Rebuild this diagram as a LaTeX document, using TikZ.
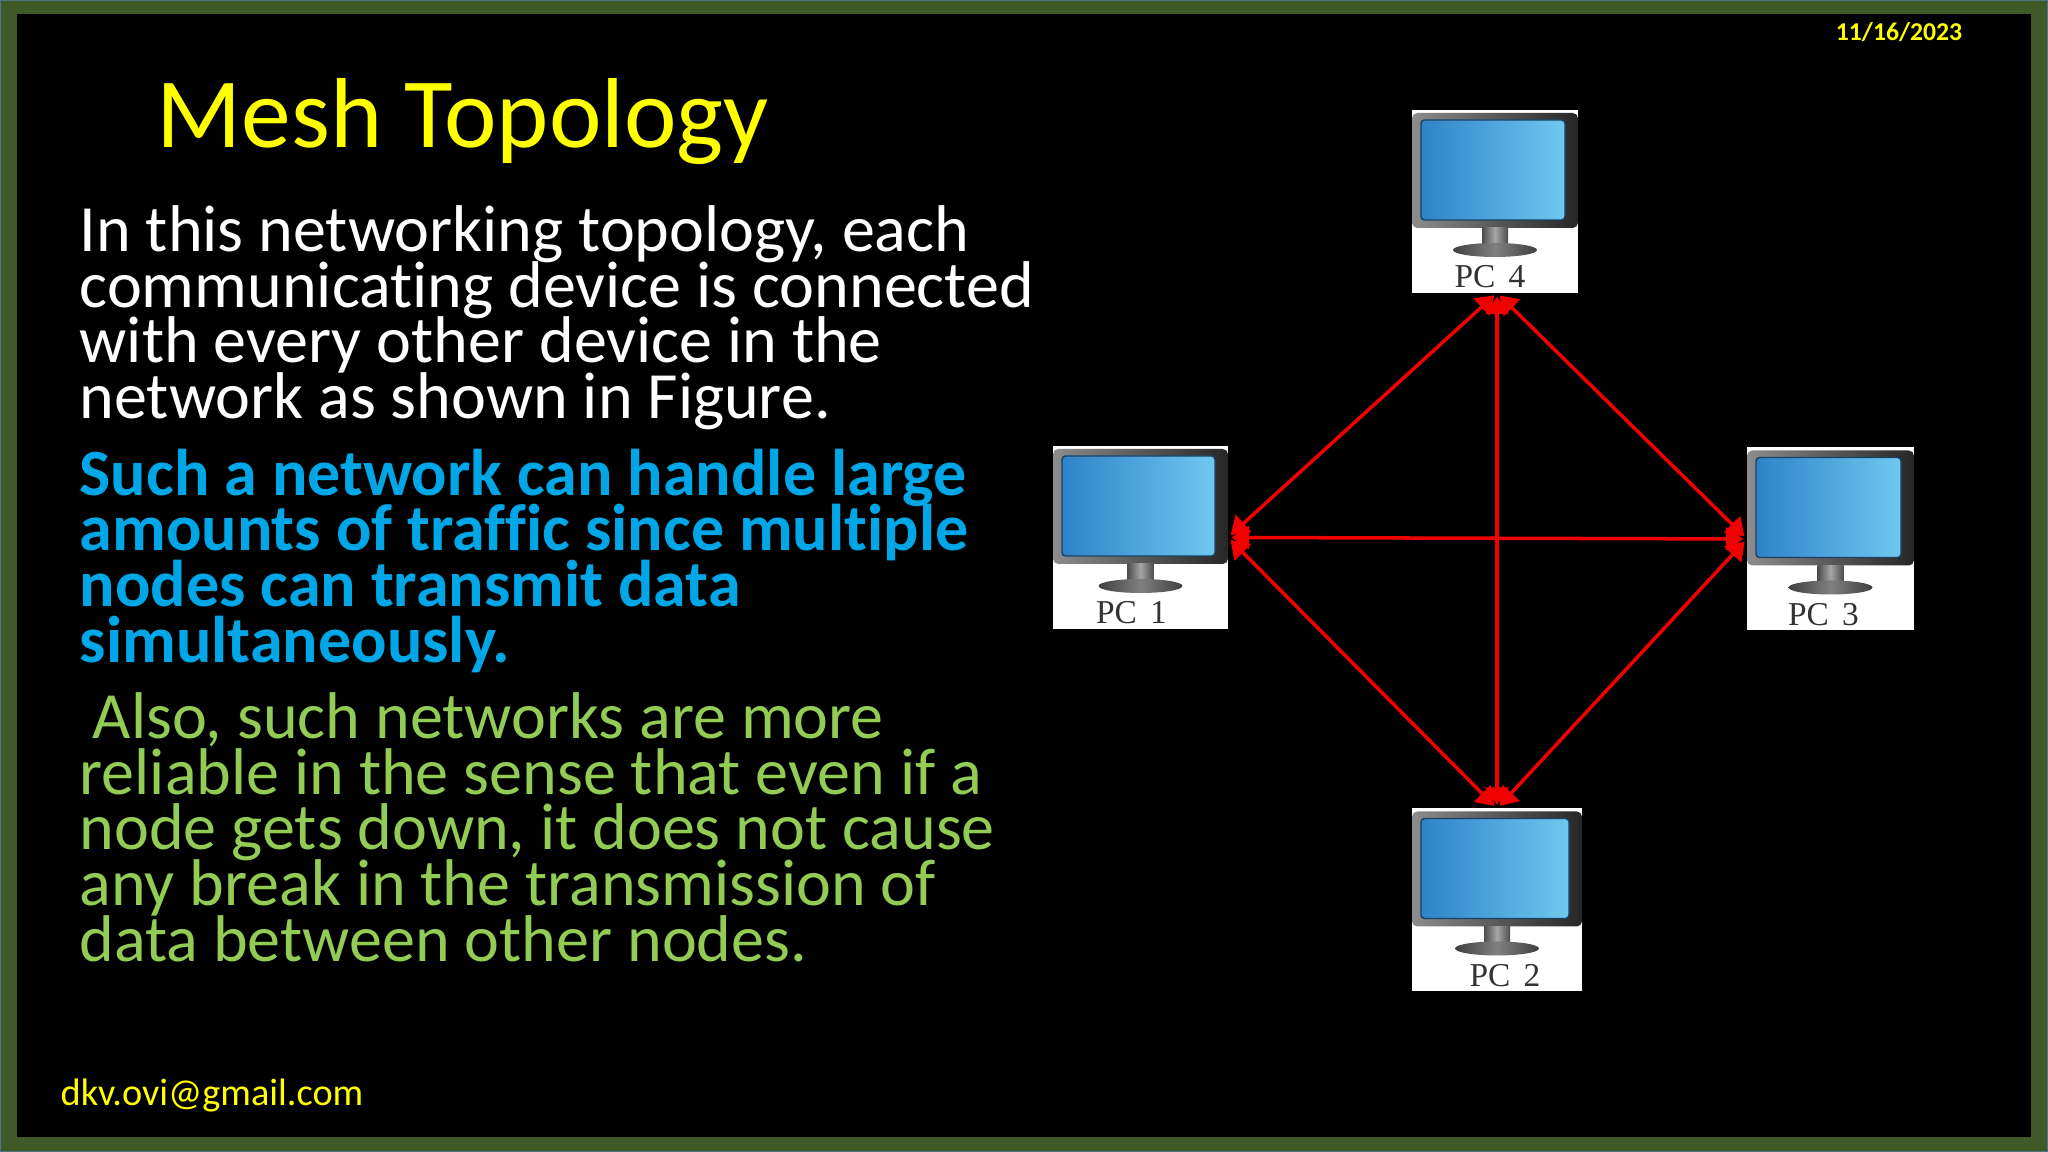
\documentclass[tikz,border=0pt]{standalone}
\usepackage{fontspec}
\setmainfont[Ligatures=NoCommon]{Carlito}
\newfontfamily\labelfont{Liberation Serif}
\usetikzlibrary{arrows.meta,positioning}
\definecolor{framegreen}{HTML}{3F5A27}
\definecolor{frameedge}{HTML}{4A7488}
\definecolor{titleyellow}{HTML}{FFFF00}
\definecolor{bodyblue}{HTML}{00A6E6}
\definecolor{bodygreen}{HTML}{92CC55}
\definecolor{screenleft}{HTML}{2E83C8}
\definecolor{screenright}{HTML}{70C8F0}
\definecolor{linkred}{HTML}{F00000}
\setlength{\lineskiplimit}{-20pt}
\newcommand{\bodyfont}{\fontsize{18.8}{15.85}\selectfont}
\tikzset{
  bodytext/.style={anchor=north west,align=left,font=\bodyfont,inner sep=0pt},
  pcbox/.style={draw=none,fill=white,inner sep=0pt,outer sep=0pt,minimum width=#1,minimum height=1.83cm},
  link/.style={linkred,line width=1pt,shorten <=1pt,shorten >=1pt,{Triangle[length=5pt,width=6.5pt]}-{Triangle[length=5pt,width=6.5pt]}},
}
% a monitor over its white box: name, label, label shift
\newcommand{\pcmonitor}[3]{%
  \shade[left color=black!45,right color=black!85,rounded corners=1.5pt] ([yshift=-0.03cm]#1.north west) rectangle ([yshift=0.65cm]#1.south east);
  \shade[left color=screenleft,right color=screenright,rounded corners=1pt,draw=screenleft!50!black,line width=0.4pt] ([shift={(0.09,-0.1)}]#1.north west) rectangle ([shift={(-0.13,0.73)}]#1.south east);
  \shade[left color=black!70,right color=black!70,middle color=black!35] ([xshift=-0.13cm,yshift=0.65cm]#1.south) rectangle ([xshift=0.13cm,yshift=0.45cm]#1.south);
  \shade[left color=black!75,right color=black!75,middle color=black!50] ([yshift=0.43cm]#1.south) ellipse (0.42 and 0.07);
  \node[text=black!80,font=\labelfont\fontsize{9.5}{9.5}\selectfont] (#1label) at ([xshift=#3,yshift=0.16cm]#1.south) {#2};
}
\begin{document}
\begin{tikzpicture}[x=1.0cm,y=1.0cm]
\useasboundingbox (0,0) rectangle (20.48,11.52);
\fill[framegreen,draw=frameedge,line width=0.5pt] (0,0) rectangle (20.48,11.52);
\fill[black] (0.17,0.15) rectangle (20.31,11.38);
\node[text=titleyellow,font=\bfseries\fontsize{7.3}{7.3}\selectfont] (date) at (18.99,11.2) {11/16/2023};
\node[text=titleyellow,font=\fontsize{10.9}{10.9}\selectfont,anchor=west,inner sep=0pt] (mail) at (0.6,0.56) {dkv.ovi@gmail.com};
\node[text=titleyellow,font=\fontsize{28.3}{28.3}\selectfont,anchor=west,inner sep=0pt] (title) at (1.56,10.305) {Mesh Topology};
\node[bodytext,text=white] (para1) at (0.79,9.47) {In this networking topology, each\\communicating device is connected\\with every other device in the\\network as shown in Figure.};
\node[bodytext,text=bodyblue,font=\bfseries\bodyfont] (para2) at (0.79,7.04) {Such a network can handle large\\amounts of traffic since multiple\\nodes can transmit data\\simultaneously.};
\node[bodytext,text=bodygreen] (para3) at (0.79,4.6) {\hspace{0.2em}Also, such networks are more\\reliable in the sense that even if a\\node gets down, it does not cause\\any break in the transmission of\\data between other nodes.};
\node[pcbox=1.66cm] (pc4) at (14.95,9.505) {};
\node[pcbox=1.75cm] (pc1) at (11.405,6.145) {};
\node[pcbox=1.67cm] (pc3) at (18.305,6.13) {};
\node[pcbox=1.7cm] (pc2) at (14.97,2.52) {};
\pcmonitor{pc4}{PC\hspace{0.4em}4}{-0.05cm}
\pcmonitor{pc1}{PC\hspace{0.4em}1}{-0.09cm}
\pcmonitor{pc3}{PC\hspace{0.4em}3}{-0.07cm}
\pcmonitor{pc2}{PC\hspace{0.4em}2}{0.08cm}
\coordinate (top) at ([xshift=0.02cm]pc4.south);
\draw[link] (top) -- (pc1.east);
\draw[link] (top) -- (pc3.west);
\draw[link] (top) -- (pc2.north);
\draw[link] (pc1.east) -- (pc3.west);
\draw[link] (pc1.east) -- (pc2.north);
\draw[link] (pc3.west) -- (pc2.north);
\end{tikzpicture}
\end{document}
